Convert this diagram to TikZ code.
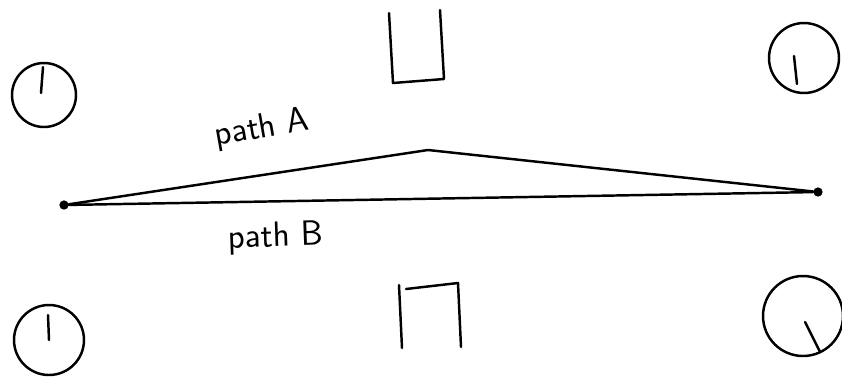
\documentclass[tikz,border=0pt]{standalone}
\usetikzlibrary{positioning}

\begin{document}
\begin{tikzpicture}[
    x=0.03cm, y=-0.03cm,
    ink/.style={line width=2.1pt, draw=black, line cap=round, line join=round},
    waypoint/.style={circle, fill=black, inner sep=2.8pt},
    label/.style={font=\sffamily\fontsize{30}{34}\selectfont, inner sep=1pt}
]
\useasboundingbox (0,0) rectangle (842,378);

% round obstacles, each with its mark
\foreach \cx/\cy/\r/\ax/\ay/\bx/\by in {
    44/95/32/43/67/41/93,
    804/58/35/794/56/797/84,
    49/340/35/48/315/49/340,
    803/316/40/805/322/820/352} {
    \draw[ink] (\cx,\cy) circle[radius=\r];
    \draw[ink] (\ax,\ay) -- (\bx,\by);
}

% walls at top and bottom
\draw[ink] (389,13) -- (393,83) -- (444,79) -- (440,10);
\draw[ink] (399,285) -- (402,348);
\draw[ink] (406,289) -- (458,283) -- (461,347);

% end points and paths
\node[waypoint] (start) at (64,205) {};
\node[waypoint] (goal) at (818,192) {};
\coordinate (apex) at (428,150);
\draw[ink] (start) -- (apex) -- (goal);
\draw[ink] (start) -- (goal);

\node[label, rotate=10] (pathA) at (262,129) {path A};
\node[label, rotate=2] (pathB) at (276,238) {path B};

\end{tikzpicture}
\end{document}
